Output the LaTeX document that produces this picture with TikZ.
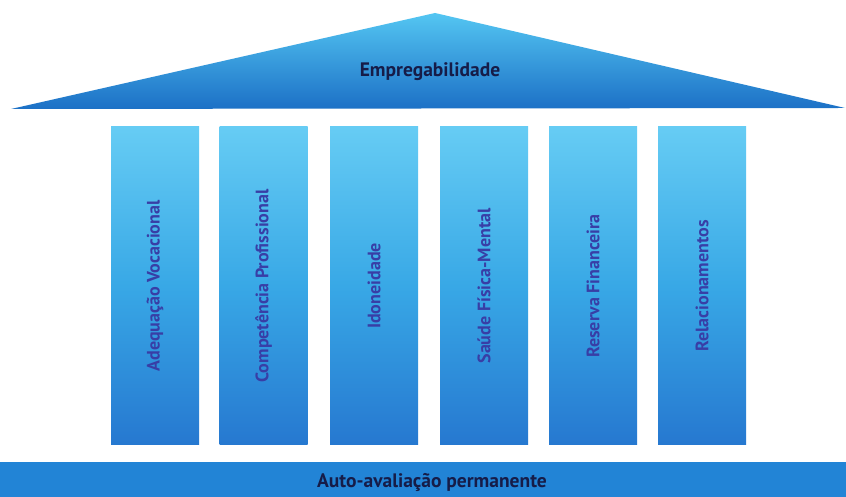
\documentclass[tikz,border=0pt]{standalone}
\usepackage{fontspec}
\setmainfont{PT Sans}
\definecolor{pilltop}{RGB}{102,204,244}
\definecolor{pillmid}{RGB}{56,168,230}
\definecolor{pillbot}{RGB}{38,120,208}
\definecolor{rooftop}{RGB}{84,198,242}
\definecolor{roofbot}{RGB}{28,112,198}
\definecolor{basecol}{RGB}{34,132,214}
\definecolor{labcol}{RGB}{56,62,166}
\definecolor{titlecol}{RGB}{22,28,72}
\tikzset{
  pillar/.style={draw=none, minimum width=88pt, minimum height=318pt, inner sep=0pt,
    top color=pilltop, bottom color=pillbot, middle color=pillmid},
  pillarlabel/.style={rotate=90, font=\bfseries\fontsize{18}{20}\selectfont, text=labcol, inner sep=0pt},
  titlelabel/.style={font=\bfseries\fontsize{19.5}{22}\selectfont, text=titlecol, inner sep=0pt}
}
\begin{document}
\begin{tikzpicture}[x=1pt,y=1pt]
\useasboundingbox (0,0) rectangle (846,497);
\fill[white] (0,0) rectangle (846,497);
% roof
\shade[top color=rooftop, bottom color=roofbot] (11,388) -- (435,484) -- (845,389) -- cycle;
\node[titlelabel] (roof) at (430,425) {Empregabilidade};
% pillars
\node[pillar] (p1) at (155,211) {};
\node[pillar] (p2) at (263.5,211) {};
\node[pillar] (p3) at (374,211) {};
\node[pillar] (p4) at (484,211) {};
\node[pillar] (p5) at (593,211) {};
\node[pillar] (p6) at (702,211) {};
\node[pillarlabel] (l1) at (p1) {Adequação Vocacional};
\node[pillarlabel] (l2) at (p2) {Competência Profissional};
\node[pillarlabel] (l3) at (p3) {Idoneidade};
\node[pillarlabel] (l4) at (p4) {Saúde Física-Mental};
\node[pillarlabel] (l5) at (p5) {Reserva Financeira};
\node[pillarlabel] (l6) at (p6) {Relacionamentos};
% base
\node[draw=none, fill=basecol, minimum width=846pt, minimum height=35pt, inner sep=0pt, anchor=south west] (base) at (0,0) {};
\node[titlelabel] (baselab) at (432,14) {Auto-avaliação permanente};
\end{tikzpicture}
\end{document}
